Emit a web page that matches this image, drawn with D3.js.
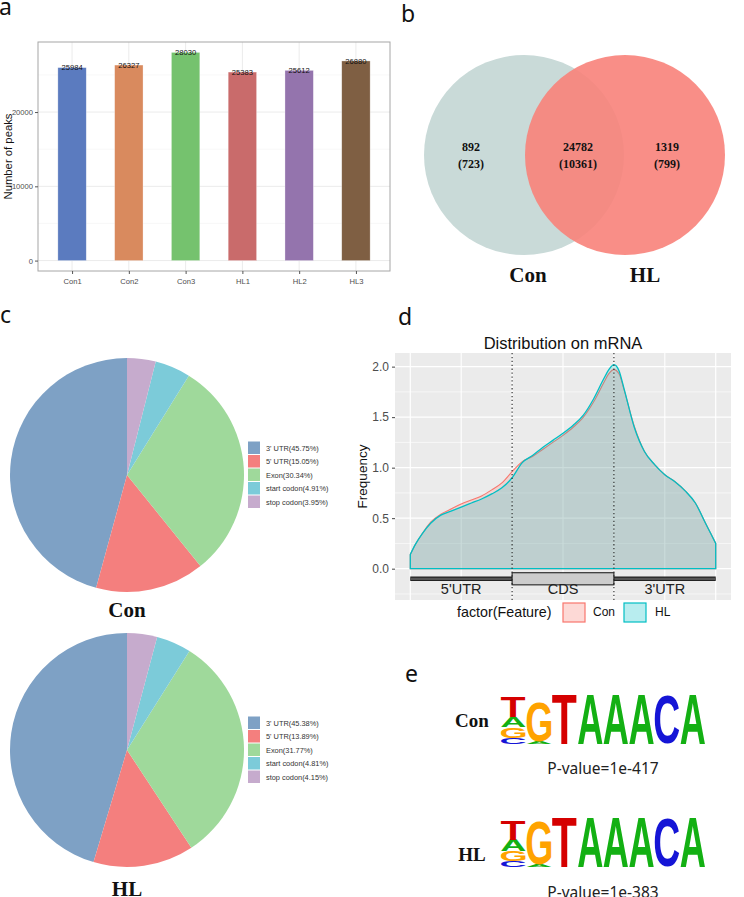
<!DOCTYPE html>
<html><head><meta charset="utf-8">
<script src="https://cdn.jsdelivr.net/npm/d3@7"></script>
<style>body{margin:0;background:#fff} svg{display:block}</style>
</head><body>
<svg id="fig" width="744" height="897"></svg>
<script>
// ---------------- data ----------------
const barCats = ["Con1","Con2","Con3","HL1","HL2","HL3"];
const barValues = [25984,26327,28030,25383,25612,26880];
const barTicks = [0,10000,20000];
const barColors = ["#5b7bbf","#d98a5e","#75c26e","#c96b6b","#9474ad","#7f5f43"];

const vennLabels = ["Con","HL"];
const vennCounts = ["892","24782","1319"];
const vennCountsSub = ["(723)","(10361)","(799)"];

const pieCats = ["3' UTR","5' UTR","Exon","start codon","stop codon"];
const pieCon = [45.75,15.05,30.34,4.91,3.95];
const pieHL = [45.38,13.89,31.77,4.81,4.15];
const pieColors = ["#7ea1c5","#f47f7e","#9fd99b","#7ccbd9","#c6abcd"];

const distX   = [0,0.05,0.12,0.2,0.3,0.4,0.5,0.6,0.7,0.8,0.9,1.0,1.1,1.2,1.3,1.4,1.5,1.6,1.7,1.8,1.9,1.95,2.0,2.05,2.1,2.2,2.3,2.4,2.5,2.6,2.7,2.8,2.9,2.95,3.0];
const distCon = [0.14,0.24,0.35,0.46,0.54,0.59,0.64,0.68,0.72,0.78,0.85,0.96,1.06,1.11,1.18,1.25,1.32,1.40,1.50,1.65,1.84,1.93,1.97,1.93,1.77,1.41,1.16,1.03,0.93,0.86,0.77,0.65,0.45,0.35,0.25];
const distHL  = [0.14,0.24,0.35,0.45,0.53,0.57,0.61,0.65,0.69,0.74,0.80,0.90,1.05,1.12,1.20,1.27,1.34,1.42,1.52,1.68,1.88,1.97,2.02,1.96,1.78,1.40,1.16,1.03,0.93,0.86,0.77,0.65,0.45,0.35,0.25];
const distYTicks = [0,0.5,1,1.5,2];
const geneRegions = ["5'UTR","CDS","3'UTR"];
const distGroups = ["Con","HL"];

const motifCon = [
  [["C",0.12],["G",0.22],["A",0.22],["T",0.41]],
  [["A",0.05],["G",0.80]],
  [["T",1]],[["A",1]],[["A",1]],[["A",1]],[["C",1]],[["A",1]]
];
const motifHL = [
  [["C",0.12],["G",0.20],["A",0.24],["T",0.40]],
  [["A",0.04],["G",0.88]],
  [["T",1]],[["A",1]],[["A",1]],[["A",1]],[["C",1]],[["A",1]]
];
const motifPvals = ["P-value=1e-417","P-value=1e-383"];
const baseColors = {A:"#13b013",C:"#1515d6",G:"#ffa300",T:"#d50000"};

// ---------------- drawing ----------------
const svg = d3.select("#fig");
const SANS = "Liberation Sans, Arial, sans-serif";
const SERIF = "Liberation Serif, Times New Roman, serif";
const LETTER = "Noto Sans, Open Sans, sans-serif";

function panelLetter(t, x, y){
  svg.append("text").attr("x",x).attr("y",y).text(t)
    .attr("font-family",LETTER).attr("font-size",23).attr("fill","#111");
}
panelLetter("a",-1,15);
panelLetter("b",401,22);
panelLetter("c",0,323);
panelLetter("d",398,325);
panelLetter("e",405,682);

// ----- panel a -----
(function(){
  const L=38,R=390,T=42,B=271;
  const g = svg.append("g");
  const x = d3.scalePoint().domain(barCats).range([L,R]).padding(0.6);
  const step = x.step();
  const y = d3.scaleLinear().domain([-1401.5,29431.5]).range([B,T]);
  [5000,15000,25000].forEach(v=>g.append("line").attr("x1",L).attr("x2",R).attr("y1",y(v)).attr("y2",y(v)).attr("stroke","#f4f4f4").attr("stroke-width",0.6));
  barTicks.forEach(v=>g.append("line").attr("x1",L).attr("x2",R).attr("y1",y(v)).attr("y2",y(v)).attr("stroke","#ebebeb").attr("stroke-width",1));
  barCats.forEach(c=>g.append("line").attr("x1",x(c)).attr("x2",x(c)).attr("y1",T).attr("y2",B).attr("stroke","#ebebeb").attr("stroke-width",1));
  g.selectAll(".bar").data(barValues).join("rect")
    .attr("x",(d,i)=>x(barCats[i])-step*0.25).attr("width",step*0.5)
    .attr("y",d=>y(d)).attr("height",d=>y(0)-y(d))
    .attr("fill",(d,i)=>barColors[i]).attr("stroke","#fff").attr("stroke-opacity",0.5).attr("stroke-width",0.6);
  g.selectAll(".vl").data(barValues).join("text")
    .attr("x",(d,i)=>x(barCats[i])).attr("y",d=>y(d)).attr("dy","0.35em")
    .attr("text-anchor","middle").attr("font-family",SANS).attr("font-size",7.6).attr("fill","#111").text(d=>d);
  g.append("rect").attr("x",L).attr("y",T).attr("width",R-L).attr("height",B-T).attr("fill","none").attr("stroke","#a6a6a6").attr("stroke-width",1);
  const ax = d3.axisBottom(x).tickSize(3).tickPadding(3);
  const gx = g.append("g").attr("transform",`translate(0,${B})`).call(ax);
  gx.select(".domain").remove();
  gx.selectAll("line").attr("stroke","#555");
  gx.selectAll("text").attr("font-family",SANS).attr("font-size",7.6).attr("fill","#4d4d4d").attr("dy","0.9em");
  const ay = d3.axisLeft(y).tickValues(barTicks).tickFormat(d3.format("d")).tickSize(3).tickPadding(2);
  const gy = g.append("g").attr("transform",`translate(${L},0)`).call(ay);
  gy.select(".domain").remove();
  gy.selectAll("line").attr("stroke","#555");
  gy.selectAll("text").attr("font-family",SANS).attr("font-size",7.6).attr("fill","#4d4d4d");
  g.append("text").attr("transform",`translate(8,${(T+B)/2}) rotate(-90)`).attr("text-anchor","middle").attr("dy","0.35em")
    .attr("font-family",SANS).attr("font-size",11.3).attr("fill","#111").text("Number of peaks");
})();

// ----- panel b -----
(function(){
  const g = svg.append("g");
  const cy=155, r=100, cx=[524,625];
  g.append("circle").attr("cx",cx[0]).attr("cy",cy).attr("r",r).attr("fill","#c9dad8");
  g.append("circle").attr("cx",cx[1]).attr("cy",cy).attr("r",r).attr("fill","#f8827a").attr("fill-opacity",0.9);
  const tx=[471,578,667];
  vennCounts.forEach((t,i)=>{
    g.append("text").attr("x",tx[i]).attr("y",151).attr("text-anchor","middle").attr("font-family",SERIF).attr("font-weight","bold").attr("font-size",12).attr("fill","#111").text(t);
    g.append("text").attr("x",tx[i]).attr("y",168).attr("text-anchor","middle").attr("font-family",SERIF).attr("font-weight","bold").attr("font-size",12).attr("fill","#111").text(vennCountsSub[i]);
  });
  [528,645].forEach((x,i)=>g.append("text").attr("x",x).attr("y",282).attr("text-anchor","middle").attr("font-family",SERIF).attr("font-weight","bold").attr("font-size",21).attr("fill","#111").text(vennLabels[i]));
})();

// ----- panel c -----
function drawPie(vals, cx, cy, label, labelY){
  const g = svg.append("g").attr("transform",`translate(${cx},${cy})`);
  const pie = d3.pie().sort(null).startAngle(0).endAngle(-2*Math.PI);
  const arc = d3.arc().innerRadius(0).outerRadius(117);
  g.selectAll("path").data(pie(vals)).join("path").attr("d",arc).attr("fill",(d,i)=>pieColors[i]);
  const lg = svg.append("g").attr("transform",`translate(248,${cy-33.5})`);
  pieCats.forEach((c,i)=>{
    lg.append("rect").attr("x",0).attr("y",i*13.5).attr("width",12).attr("height",12.5).attr("fill",pieColors[i]);
    lg.append("text").attr("x",18).attr("y",i*13.5+6.5).attr("dy","0.35em").attr("font-family",SANS).attr("font-size",7.4).attr("fill","#333")
      .text(`${c}(${vals[i].toFixed(2)}%)`);
  });
  svg.append("text").attr("x",cx).attr("y",labelY).attr("text-anchor","middle").attr("font-family",SERIF).attr("font-weight","bold").attr("font-size",21).attr("fill","#111").text(label);
}
drawPie(pieCon,127,475,"Con",617);
drawPie(pieHL,127,750,"HL",896);

// ----- panel d -----
(function(){
  const L=395,R=731,T=353,B=600;
  const g = svg.append("g");
  const x = d3.scaleLinear().domain([-0.15,3.15]).range([L,R]);
  const y = d3.scaleLinear().domain([-0.31,2.135]).range([B,T]);
  g.append("rect").attr("x",L).attr("y",T).attr("width",R-L).attr("height",B-T).attr("fill","#ebebeb");
  [-0.25,0.25,0.75,1.25,1.75].forEach(v=>g.append("line").attr("x1",L).attr("x2",R).attr("y1",y(v)).attr("y2",y(v)).attr("stroke","#fff").attr("stroke-width",0.6));
  [0.5,1.5,2.5].forEach(v=>g.append("line").attr("y1",T).attr("y2",B).attr("x1",x(v)).attr("x2",x(v)).attr("stroke","#fff").attr("stroke-width",1.1));
  distYTicks.forEach(v=>g.append("line").attr("x1",L).attr("x2",R).attr("y1",y(v)).attr("y2",y(v)).attr("stroke","#fff").attr("stroke-width",1.2));
  [0,1,2,3].forEach(v=>g.append("line").attr("y1",T).attr("y2",B).attr("x1",x(v)).attr("x2",x(v)).attr("stroke","#fff").attr("stroke-width",1.2));
  const area = d3.area().x(d=>x(d[0])).y0(y(0)).y1(d=>y(d[1])).curve(d3.curveMonotoneX);
  const cols = ["#f8766d","#00bfc4"];
  [distCon,distHL].forEach((s,k)=>{
    g.append("path").attr("d",area(distX.map((v,i)=>[v,s[i]])))
      .attr("fill",cols[k]).attr("fill-opacity",0.2).attr("stroke",cols[k]).attr("stroke-width",k?1.3:1.1);
  });
  g.append("line").attr("x1",x(0)).attr("x2",x(3)).attr("y1",y(-0.1)).attr("y2",y(-0.1)).attr("stroke","#222").attr("stroke-width",4.5);
  g.append("line").attr("x1",x(0)).attr("x2",x(3)).attr("y1",y(-0.1)).attr("y2",y(-0.1)).attr("stroke","#555").attr("stroke-width",2.2);
  g.append("rect").attr("x",x(1)).attr("y",y(-0.04)).attr("width",x(2)-x(1)).attr("height",y(-0.16)-y(-0.04)).attr("fill","#cccccc").attr("stroke","#222").attr("stroke-width",1.1);
  geneRegions.forEach((t,i)=>g.append("text").attr("x",x(i+0.5)).attr("y",y(-0.2)).attr("dy","0.35em").attr("text-anchor","middle").attr("font-family",SANS).attr("font-size",14.5).attr("fill","#222").text(t));
  [1,2].forEach(v=>g.append("line").attr("x1",x(v)).attr("x2",x(v)).attr("y1",T).attr("y2",B).attr("stroke","#222").attr("stroke-width",1.1).attr("stroke-dasharray","1.3,2.6"));
  const ay = d3.axisLeft(y).tickValues(distYTicks).tickFormat(d3.format(".1f")).tickSize(3).tickPadding(3);
  const gy = g.append("g").attr("transform",`translate(${L},0)`).call(ay);
  gy.select(".domain").remove();
  gy.selectAll("line").attr("stroke","#444");
  gy.selectAll("text").attr("font-family",SANS).attr("font-size",12).attr("fill","#4d4d4d");
  g.append("text").attr("transform",`translate(367,${(T+B)/2}) rotate(-90)`).attr("text-anchor","middle").attr("font-family",SANS).attr("font-size",13.5).attr("fill","#111").text("Frequency");
  g.append("text").attr("x",(L+R)/2).attr("y",349).attr("text-anchor","middle").attr("font-family",SANS).attr("font-size",16.5).attr("fill","#111").text("Distribution on mRNA");
  g.append("text").attr("x",457).attr("y",612).attr("dy","0.35em").attr("font-family",SANS).attr("font-size",14.3).attr("fill","#111").text("factor(Feature)");
  const kx=[563,624], tx=[593,655];
  distGroups.forEach((t,i)=>{
    g.append("rect").attr("x",kx[i]).attr("y",603).attr("width",22).attr("height",19).attr("fill",cols[i]).attr("fill-opacity",0.28).attr("stroke",cols[i]).attr("stroke-width",1.2);
    g.append("text").attr("x",tx[i]).attr("y",612).attr("dy","0.35em").attr("font-family",SANS).attr("font-size",12).attr("fill","#111").text(t);
  });
})();

// ----- panel e -----
const ctx = document.createElement("canvas").getContext("2d");
ctx.font = "bold 100px 'Liberation Sans'";
function glyph(g, ch, x0, y0, w, h){
  const m = ctx.measureText(ch);
  const gl = m.actualBoundingBoxLeft, gr = m.actualBoundingBoxRight, ga = m.actualBoundingBoxAscent, gd = m.actualBoundingBoxDescent;
  const sx = w/(gl+gr), sy = h/(ga+gd);
  g.append("text").attr("transform",`translate(${x0+gl*sx},${y0+ga*sy}) scale(${sx},${sy})`)
    .attr("font-family","Liberation Sans").attr("font-weight","bold").attr("font-size",100).attr("fill",baseColors[ch]).text(ch);
}
function drawLogo(motif, top, label, labelY, pval, pY){
  const g = svg.append("g");
  const x = d3.scaleBand().domain(d3.range(motif.length)).range([501,705]).paddingInner(0.04);
  const H = 49;
  const y = d3.scaleLinear().domain([0,1]).range([top+H, top]);
  motif.forEach((col,i)=>{
    let acc = 0;
    col.forEach(([ch,f])=>{
      glyph(g, ch, x(i), y(acc+f), x.bandwidth(), y(acc)-y(acc+f));
      acc += f;
    });
  });
  svg.append("text").attr("x",472).attr("y",labelY).attr("text-anchor","middle").attr("font-family",SERIF).attr("font-weight","bold").attr("font-size",19).attr("fill","#111").text(label);
  svg.append("text").attr("x",603).attr("y",pY).attr("text-anchor","middle").attr("font-family",LETTER).attr("font-size",15.5).attr("fill","#222").text(pval);
}
drawLogo(motifCon,695,"Con",727,motifPvals[0],774);
drawLogo(motifHL,818,"HL",861,motifPvals[1],898);
</script>
</body></html>
